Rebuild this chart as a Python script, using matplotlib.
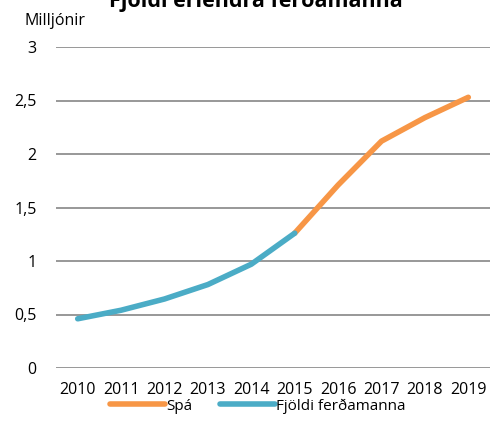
import matplotlib.pyplot as plt

years = ["2010", "2011", "2012", "2013", "2014", "2015", "2016", "2017", "2018", "2019"]
actual = [0.46, 0.54, 0.645, 0.78, 0.97, 1.26]
forecast = [1.26, 1.71, 2.12, 2.34, 2.53]
yticks = [0, 0.5, 1, 1.5, 2, 2.5, 3]
ytick_labels = ["0", "0,5", "1", "1,5", "2", "2,5", "3"]

plt.rcParams["font.family"] = ["Open Sans", "DejaVu Sans"]

fig = plt.figure(figsize=(4.96, 4.41), dpi=100)
ax = fig.add_axes([56 / 496, 1 - 368 / 441, 434 / 496, 321 / 441])

x_actual = list(range(len(actual)))
x_forecast = list(range(len(actual) - 1, len(years)))

ax.plot(x_forecast, forecast, color="#F79646", linewidth=4, solid_capstyle="round", label="Spá")
ax.plot(x_actual, actual, color="#4BACC6", linewidth=4, solid_capstyle="round", label="Fjöldi ferðamanna")

ax.set_xlim(-0.5, len(years) - 0.5)
ax.set_ylim(0, 3)
ax.set_yticks(yticks)
ax.set_yticklabels(ytick_labels)
ax.set_xticks(range(len(years)))
ax.set_xticklabels(years)
ax.tick_params(length=0, labelsize=11.5, colors="#000000")
ax.tick_params(axis="y", pad=14)
ax.tick_params(axis="x", pad=10)
ax.grid(axis="y", color="#868686", linewidth=1.2)
ax.set_axisbelow(True)
for s in ax.spines.values():
    s.set_visible(False)

fig.text(256 / 496, 1 - 7 / 441, "Fjöldi erlendra ferðamanna", ha="center", va="baseline",
         fontsize=15.5, fontweight="bold")
fig.text(25 / 496, 1 - 21 / 441, "Milljónir", ha="left", va="center", fontsize=11.5)

ax.legend(loc="center", bbox_to_anchor=(0.465, -0.118), ncol=2, frameon=False,
          fontsize=11, handlelength=3.6, handletextpad=0.1, columnspacing=1.8)

fig.savefig("out.png", dpi=100)
